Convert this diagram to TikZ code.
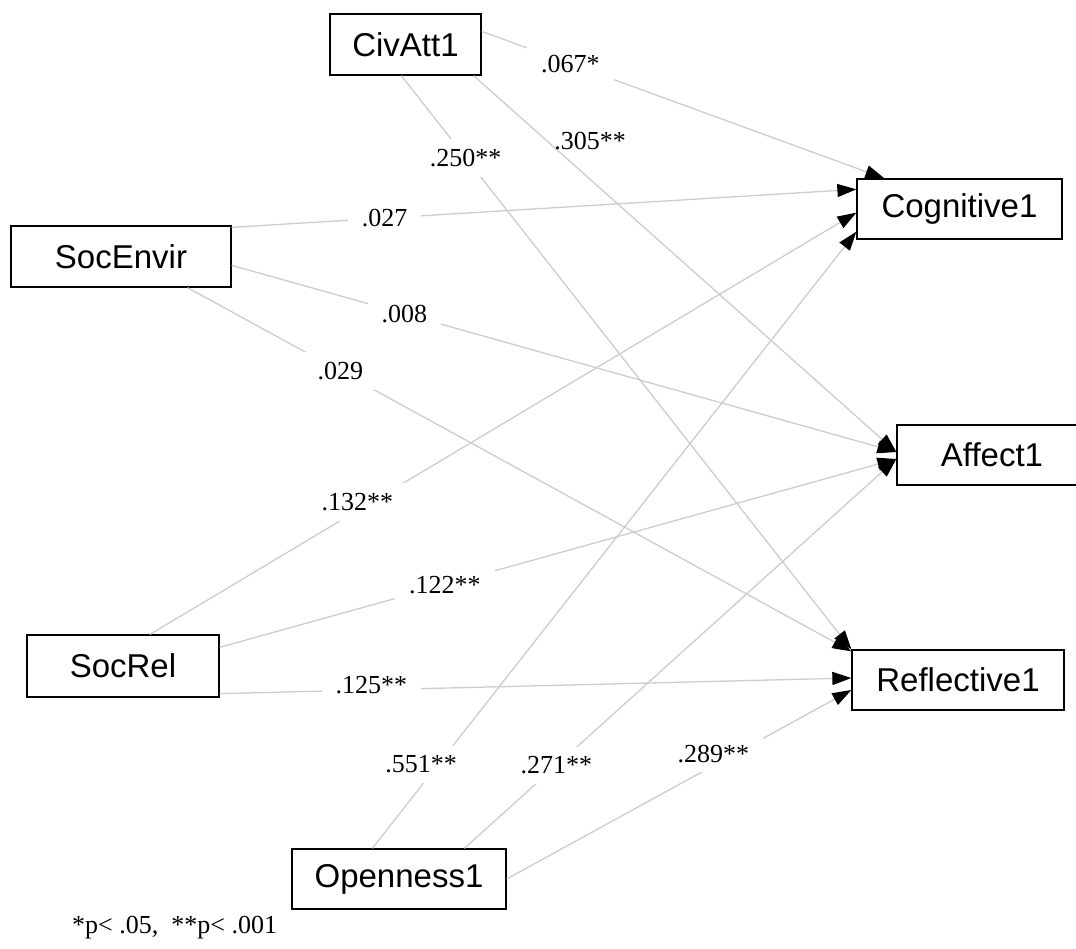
\documentclass[tikz,border=0pt]{standalone}
\usepackage{fontspec}
\setmainfont{Liberation Serif}
\newfontfamily\boxfont{Liberation Sans}
\usetikzlibrary{arrows.meta}
\definecolor{linegray}{RGB}{205,205,205}

\begin{document}
\begin{tikzpicture}[x=1pt,y=-1pt,
  var/.style={draw=black,line width=1.3pt,fill=white,inner sep=0pt,
    font=\boxfont\fontsize{33}{36}\selectfont},
  link/.style={draw=linegray,line width=1.3pt,
    -{Triangle[length=19pt,width=13pt,color=black]}},
  coef/.style={fill=white,inner xsep=14pt,inner ysep=10pt,
    font=\fontsize{26}{29}\selectfont}]

\clip (0,0) rectangle (1076,949);
\fill[white] (0,0) rectangle (1076,949);

% observed variables
\node[var,minimum width=151pt,minimum height=61pt] (civ) at (405.5,44.5) {CivAtt1};
\node[var,minimum width=220pt,minimum height=61pt] (env) at (121,256.5) {SocEnvir};
\node[var,minimum width=192pt,minimum height=62pt] (rel) at (123,666) {SocRel};
\node[var,minimum width=214pt,minimum height=60pt] (opn) at (399,879) {Openness1};
\node[var,minimum width=205pt,minimum height=60pt] (cog) at (959.5,209) {Cognitive1};
\node[var,minimum width=190pt,minimum height=60pt] (aff) at (992,455) {Affect1};
\node[var,minimum width=212pt,minimum height=60pt] (ref) at (958,680) {Reflective1};

% paths from CivAtt1
\draw[link] ([yshift=-18pt]civ.north east) -- ([xshift=28pt]cog.north west) coordinate[pos=0.22] (k1);
\draw[link] ([xshift=-8pt]civ.south east) -- ([yshift=3pt]aff.west) coordinate[pos=0.2] (k2);
\draw[link] ([xshift=72pt]civ.south west) -- (ref.north west) coordinate[pos=0.143] (k3);

% paths from SocEnvir
\draw[link] ([yshift=-2pt]env.north east) -- ([yshift=-11pt]cog.north west) coordinate[pos=0.245] (k4);
\draw[link] ([yshift=-40pt]env.north east) -- ([yshift=3pt]aff.west) coordinate[pos=0.26] (k5);
\draw[link] ([xshift=-44pt]env.south east) -- ([yshift=-2pt]ref.north west) coordinate[pos=0.23] (k6);

% paths from SocRel
\draw[link] ([xshift=27pt]rel.north) -- ([yshift=27pt]cog.south west) coordinate[pos=0.305] (k7);
\draw[link] ([yshift=-13pt]rel.north east) -- ([yshift=-4pt]aff.west) coordinate[pos=0.333] (k8);
\draw[link] ([yshift=4pt]rel.south east) -- ([yshift=2pt]ref.west) coordinate[pos=0.24] (k9);

% paths from Openness1
\draw[link] ([xshift=81pt]opn.north west) -- ([yshift=8pt]cog.south west) coordinate[pos=0.136] (k10);
\draw[link] ([xshift=173pt]opn.north west) -- ([yshift=-4pt]aff.west) coordinate[pos=0.213] (k11);
\draw[link] (opn.east) -- ([yshift=-10pt]ref.west) coordinate[pos=0.6] (k12);

% standardized coefficients
\node[coef] at (k1) {.067*};
\node[coef,fill=none] at ([xshift=32pt,yshift=10pt]k2) {.305**};
\node[coef] at (k3) {.250**};
\node[coef] at (k4) {.027};
\node[coef] at (k5) {.008};
\node[coef] at (k6) {.029};
\node[coef] at ([xshift=-8pt,yshift=4pt]k7) {.132**};
\node[coef] at (k8) {.122**};
\node[coef] at ([yshift=5pt]k9) {.125**};
\node[coef] at ([xshift=-17pt]k10) {.551**};
\node[coef] at (k11) {.271**};
\node[coef] at ([yshift=12pt]k12) {.289**};

% significance note
\node[anchor=base west,inner sep=0pt,font=\fontsize{26}{29}\selectfont] (note) at (72,933) {*p< .05,\ \ **p< .001};
\end{tikzpicture}
\end{document}
